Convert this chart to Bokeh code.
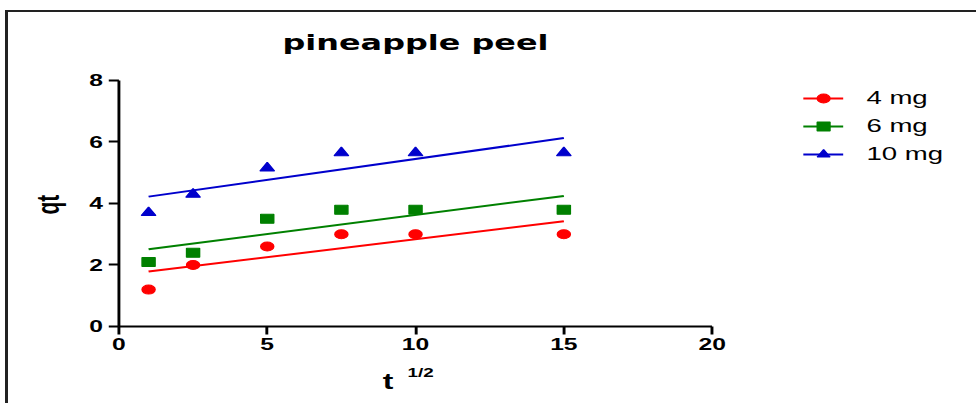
import numpy as np
from bokeh.plotting import figure
from bokeh.models import (Range1d, FixedTicker, Legend, LegendItem, Title,
                          Label, InlineStyleSheet)
from bokeh.embed import file_html
from bokeh.resources import INLINE

# Intraparticle diffusion data: qt against square root of time
t_half = [1, 2.5, 5, 7.5, 10, 15]
qt_4mg = [1.2, 2.0, 2.6, 3.0, 3.0, 3.0]
qt_6mg = [2.1, 2.4, 3.5, 3.8, 3.8, 3.8]
qt_10mg = [3.7, 4.3, 5.15, 5.65, 5.65, 5.65]
series_names = ["4 mg", "6 mg", "10 mg"]
x_ticks = [0, 5, 10, 15, 20]
y_ticks = [0, 2, 4, 6, 8]

colors = ["#ff0000", "#008000", "#0000cc"]
markers = ["circle", "square", "triangle"]
marker_sizes = [9, 9, 10]

FONT = "Liberation Sans"
W, H = 667, 391

# the frame spans the title and legend area too; the axes stop at 20 and 8
p = figure(width=W, height=H, x_range=Range1d(0, 28.5), y_range=Range1d(0, 10.21),
           output_backend="svg", toolbar_location=None,
           min_border_left=76, min_border_right=8,
           min_border_top=0, min_border_bottom=77)
p.outline_line_color = None
p.xgrid.visible = False
p.ygrid.visible = False
p.background_fill_color = "white"
p.border_fill_color = "white"

# thin frame around the figure; the drawing itself is stretched horizontally
p.styles = {"margin-left": "8px", "margin-top": "12px"}
p.stylesheets = [InlineStyleSheet(css="""
:host { position: relative; overflow: visible; }
:host::after {
  content: ""; position: absolute; left: -3px; top: -2px;
  width: 971px; height: 400px; box-sizing: border-box;
  border-top: 2px solid #222; border-left: 3px solid #222;
  pointer-events: none;
}
.bk-Canvas { transform: scaleX(1.45); transform-origin: 0 0; }
""")]

for ax in (p.xaxis[0], p.yaxis[0]):
    ax.axis_line_width = 2
    ax.axis_line_color = "black"
    ax.major_tick_line_width = 2
    ax.major_tick_line_color = "black"
    ax.major_tick_in = 0
    ax.minor_tick_line_color = None
    ax.major_label_text_font = FONT
    ax.major_label_text_font_style = "bold"
    ax.major_label_text_font_size = "17px"
    ax.major_label_text_color = "black"
    ax.major_label_standoff = 4

p.xaxis[0].ticker = FixedTicker(ticks=x_ticks)
p.yaxis[0].ticker = FixedTicker(ticks=y_ticks)
p.xaxis[0].bounds = (x_ticks[0], x_ticks[-1])
p.yaxis[0].bounds = (y_ticks[0], y_ticks[-1])
p.xaxis[0].major_tick_out = 8
p.yaxis[0].major_tick_out = 7

# y label, placed beside the 0-8 span of the axis
p.add_layout(Title(text="qt", align="left", offset=112, standoff=24,
                   vertical_align="top", text_font=FONT,
                   text_font_style="bold", text_font_size="21px",
                   text_color="black"), "left")

# x label: "t" with the exponent 1/2 raised beside it
p.add_layout(Title(text="1/2", align="left", offset=199, standoff=22,
                   vertical_align="top", text_font=FONT,
                   text_font_style="bold", text_font_size="13px",
                   text_color="black"), "below")
p.add_layout(Title(text="t", align="left", offset=182, standoff=-48,
                   vertical_align="top", text_font=FONT,
                   text_font_style="bold", text_font_size="22px",
                   text_color="black"), "below")

p.add_layout(Label(x=10, y=8.84, text="pineapple peel", text_align="center",
                   text_font="DejaVu Sans", text_font_style="bold",
                   text_font_size="22px", text_color="black"))

items = []
xs = np.array(t_half, dtype=float)
for name, ys, c, m, s in zip(series_names, [qt_4mg, qt_6mg, qt_10mg], colors, markers, marker_sizes):
    slope, intercept = np.polyfit(xs, np.array(ys, dtype=float), 1)
    fit_x = [xs.min(), xs.max()]
    fit_y = [intercept + slope * v for v in fit_x]
    lr = p.line(fit_x, fit_y, line_color=c, line_width=2)
    sr = p.scatter(t_half, ys, marker=m, size=s, fill_color=c, line_color=c)
    items.append(LegendItem(label=name, renderers=[lr, sr]))

legend = Legend(items=items, location=(472, 161), orientation="vertical",
                border_line_color=None, background_fill_alpha=0,
                padding=0, margin=0, glyph_width=28, glyph_height=22,
                label_height=22, label_standoff=16, spacing=6,
                label_text_font=FONT, label_text_font_size="19px",
                label_text_color="black")
p.add_layout(legend)

open("out.html", "w").write(file_html(p, INLINE))
